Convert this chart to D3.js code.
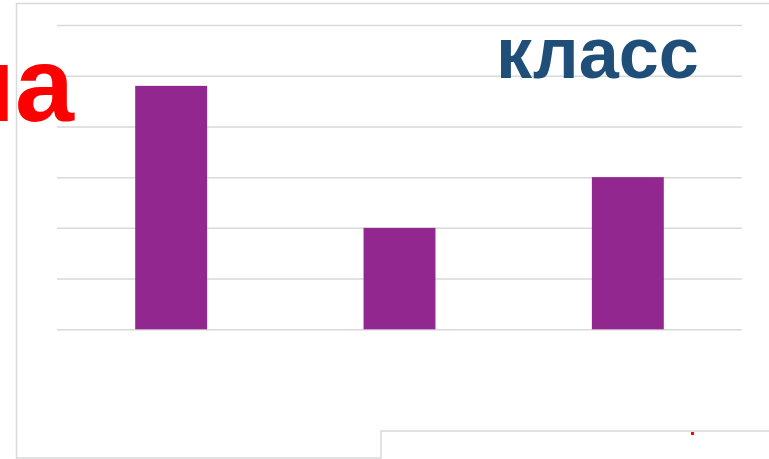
<!DOCTYPE html>
<html>
<head>
<meta charset="utf-8">
<script src="https://cdn.jsdelivr.net/npm/d3@7"></script>
<style>
  html, body { margin: 0; padding: 0; background: #fff; }
  svg { display: block; font-family: "Liberation Sans", Arial, sans-serif; }
</style>
</head>
<body>
<svg id="canvas" width="769" height="459"></svg>
<script>
'use strict';

/* chart data */
const categories = ['1', '2', '3'];
const values = [4.8, 2, 3];
const yTicks = [0, 1, 2, 3, 4, 5, 6];

const svg = d3.select('#canvas');

/* outer frame of the slide area (stepped at the bottom right) */
svg.append('path')
  .attr('d', 'M769,3.5 H16.5 V458 H381 V431 H769')
  .style('fill', 'none')
  .style('stroke', '#d9d9d9')
  .style('stroke-width', 1.5);

/* scales */
let x = d3.scaleBand()
  .domain(categories)
  .range([57, 742])
  .paddingInner(0.685)
  .paddingOuter(0.3425);

let y = d3.scaleLinear()
  .domain([0, 6])
  .range([329.3, 25]);

/* horizontal gridlines, drawn through an axis */
let grid = svg.append('g')
  .attr('id', 'grid')
  .attr('transform', 'translate(57,0)')
  .call(d3.axisLeft(y).tickValues(yTicks).tickSize(-685).tickFormat(''));
grid.select('.domain').remove();
grid.selectAll('.tick line')
  .style('stroke', '#d9d9d9')
  .style('stroke-width', 1.5);

/* bars */
svg.append('g')
  .attr('id', 'bars')
  .selectAll('rect')
  .data(values)
  .enter().append('rect')
    .attr('x', function(d, i){ return x(categories[i]); })
    .attr('y', function(d){ return y(d); })
    .attr('width', x.bandwidth())
    .attr('height', function(d){ return y(0) - y(d); })
    .style('fill', '#92278f');

/* overlapping slide text */
svg.append('text')
  .attr('x', 74)
  .attr('y', 121)
  .attr('text-anchor', 'end')
  .style('font-size', '106px')
  .style('font-weight', 'bold')
  .style('fill', '#ff0000')
  .text('на');

svg.append('text')
  .attr('x', 496)
  .attr('y', 78)
  .style('font-size', '72px')
  .style('font-weight', 'bold')
  .style('fill', '#1f4e79')
  .text('класс');

/* small red fragment near the bottom edge */
svg.append('rect')
  .attr('x', 691)
  .attr('y', 432)
  .attr('width', 3)
  .attr('height', 3)
  .style('fill', '#ff0000');
</script>
</body>
</html>
